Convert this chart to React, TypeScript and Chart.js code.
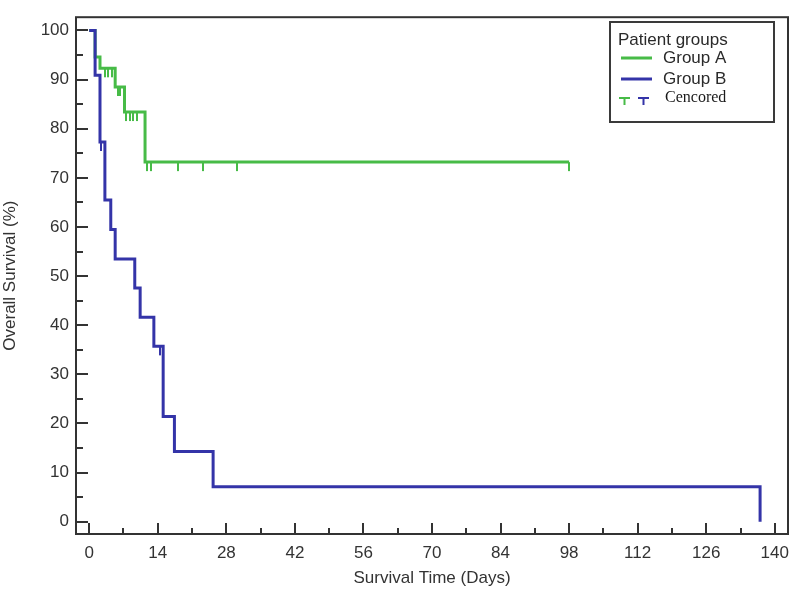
import React, { useEffect, useRef } from "react";
import { Chart, registerables } from "chart.js";

Chart.register(...registerables);

// Kaplan–Meier step data (time in days, survival in %)
const groupATimes = [0, 1.2, 2.2, 5.3, 7.2, 11.4, 98];
const groupAValues = [100, 94.6, 92.3, 88.5, 83.4, 73.2, 73.2];
const groupBTimes = [0, 1.2, 2.2, 3.2, 4.4, 5.3, 9.3, 10.4, 13.2, 15.1, 17.4, 25.3, 137];
const groupBValues = [100, 90.9, 77.3, 65.5, 59.5, 53.5, 47.6, 41.6, 35.7, 21.4, 14.3, 7.1, 0];

// censored observations (time in days)
const groupACensorTimes = [3.2, 3.9, 4.6, 5.8, 6.3, 7.6, 8.3, 9.0, 9.7, 11.8, 12.6, 18.2, 23.3, 30.2, 98];
const groupBCensorTimes = [2.5, 14.4];

// axis ticks
const xTicks = [0, 14, 28, 42, 56, 70, 84, 98, 112, 126, 140];
const xMinorTicks = [7, 21, 35, 49, 63, 77, 91, 105, 119, 133];
const yTicks = [0, 10, 20, 30, 40, 50, 60, 70, 80, 90, 100];
const yMinorTicks = [5, 15, 25, 35, 45, 55, 65, 75, 85, 95];

const legendTitle = "Patient groups";
const legendLabels = ["Group A", "Group B"];
const censorLabel = "Cencored";

const GREEN = "#47bb47";
const BLUE = "#3434a8";
const INK = "#333333";
const SANS = "'Liberation Sans', Arial, sans-serif";

function survivalAt(times: number[], values: number[], t: number): number {
  let v = values[0];
  for (let i = 0; i < times.length; i++) {
    if (times[i] <= t) v = values[i];
  }
  return v;
}

function censorMark(color: string): HTMLCanvasElement {
  const c = document.createElement("canvas");
  c.width = 2;
  c.height = 20;
  const ctx = c.getContext("2d")!;
  ctx.fillStyle = color;
  ctx.fillRect(0, 10, 2, 9);
  return c;
}

const framePlugin = {
  id: "framePlugin",
  afterDraw(chart: any) {
    const { ctx, chartArea, scales } = chart;
    const { left, right, top, bottom } = chartArea;
    ctx.save();
    ctx.strokeStyle = INK;
    ctx.lineWidth = 2;
    ctx.strokeRect(left, top, right - left, bottom - top);
    ctx.beginPath();
    xTicks.forEach((v) => {
      const px = Math.round(scales.x.getPixelForValue(v));
      ctx.moveTo(px, bottom);
      ctx.lineTo(px, bottom - 11);
    });
    xMinorTicks.forEach((v) => {
      const px = Math.round(scales.x.getPixelForValue(v));
      ctx.moveTo(px, bottom);
      ctx.lineTo(px, bottom - 6);
    });
    yTicks.forEach((v) => {
      const py = Math.round(scales.y.getPixelForValue(v));
      ctx.moveTo(left, py);
      ctx.lineTo(left + 12, py);
    });
    yMinorTicks.forEach((v) => {
      const py = Math.round(scales.y.getPixelForValue(v));
      ctx.moveTo(left, py);
      ctx.lineTo(left + 7, py);
    });
    ctx.stroke();

    // legend box
    const lx = 610, ly = 22, lw = 164, lh = 100;
    ctx.lineWidth = 2;
    ctx.strokeStyle = "#3a3a3a";
    ctx.strokeRect(lx, ly, lw, lh);
    ctx.fillStyle = "#2a2a2a";
    ctx.textBaseline = "middle";
    ctx.textAlign = "left";
    ctx.font = "17px " + SANS;
    ctx.fillText(legendTitle, 618, 40);
    const colors = [GREEN, BLUE];
    const rows = [58, 79];
    legendLabels.forEach((lab, i) => {
      ctx.strokeStyle = colors[i];
      ctx.lineWidth = 3;
      ctx.beginPath();
      ctx.moveTo(621, rows[i]);
      ctx.lineTo(652, rows[i]);
      ctx.stroke();
      ctx.fillStyle = "#2a2a2a";
      ctx.fillText(lab, 663, rows[i]);
    });
    // censor symbols
    const ts = [[619, 630], [638, 649]];
    ts.forEach((t, i) => {
      ctx.strokeStyle = colors[i];
      ctx.lineWidth = 2;
      ctx.beginPath();
      ctx.moveTo(t[0], 98);
      ctx.lineTo(t[1], 98);
      ctx.moveTo((t[0] + t[1]) / 2, 98);
      ctx.lineTo((t[0] + t[1]) / 2, 105);
      ctx.stroke();
    });
    ctx.fillStyle = "#1a1a1a";
    ctx.font = "16px 'Liberation Serif', 'Times New Roman', serif";
    ctx.fillText(censorLabel, 665, 98);
    ctx.restore();
  },
};

export default function App() {
  const ref = useRef<HTMLCanvasElement | null>(null);
  useEffect(() => {
    if (!ref.current) return;
    const toPts = (ts: number[], vs: number[]) => ts.map((t, i) => ({ x: t, y: vs[i] }));
    const chart = new Chart(ref.current, {
      type: "line",
      data: {
        datasets: [
          {
            label: legendLabels[1],
            data: toPts(groupBTimes, groupBValues),
            borderColor: BLUE,
            borderWidth: 3,
            stepped: "before",
            pointRadius: 0,
            fill: false,
            order: 1,
          },
          {
            label: legendLabels[0],
            data: toPts(groupATimes, groupAValues),
            borderColor: GREEN,
            borderWidth: 3,
            stepped: "before",
            pointRadius: 0,
            fill: false,
            order: 2,
          },
          {
            type: "scatter",
            label: "censor B",
            data: groupBCensorTimes.map((t) => ({ x: t, y: survivalAt(groupBTimes, groupBValues, t) })),
            pointStyle: censorMark(BLUE),
            pointRadius: 5,
            showLine: false,
            order: 0,
          },
          {
            type: "scatter",
            label: "censor A",
            data: groupACensorTimes.map((t) => ({ x: t, y: survivalAt(groupATimes, groupAValues, t) })),
            pointStyle: censorMark(GREEN),
            pointRadius: 5,
            showLine: false,
            order: 3,
          },
        ] as any,
      },
      options: {
        animation: false,
        responsive: false,
        devicePixelRatio: 1,
        layout: { padding: { left: 0, top: 10, right: 12, bottom: 0 } },
        plugins: { legend: { display: false }, tooltip: { enabled: false } },
        scales: {
          x: {
            type: "linear",
            min: -2.7,
            max: 142.7,
            grid: { display: false, drawTicks: false },
            border: { display: false },
            afterBuildTicks: (s: any) => {
              s.ticks = xTicks.map((v) => ({ value: v }));
            },
            afterFit: (s: any) => {
              s.height = 61;
            },
            ticks: {
              padding: 9,
              color: INK,
              maxRotation: 0,
              autoSkip: false,
              font: { family: SANS, size: 17 },
            },
            title: {
              display: true,
              text: "Survival Time (Days)",
              color: INK,
              padding: { top: 0, bottom: 6 },
              font: { family: SANS, size: 17 },
            },
          },
          y: {
            type: "linear",
            min: -2.5,
            max: 102.7,
            grid: { display: false, drawTicks: false },
            border: { display: false },
            afterBuildTicks: (s: any) => {
              s.ticks = yTicks.map((v) => ({ value: v }));
            },
            afterFit: (s: any) => {
              s.width = 76;
            },
            ticks: {
              padding: 7,
              color: INK,
              autoSkip: false,
              font: { family: SANS, size: 17 },
            },
            title: {
              display: true,
              text: "Overall Survival (%)",
              color: INK,
              padding: { top: 0, bottom: 0 },
              font: { family: SANS, size: 17 },
            },
          },
        },
      } as any,
      plugins: [framePlugin],
    });
    return () => chart.destroy();
  }, []);
  return (
    <div style={{ position: "absolute", left: 0, top: 0, width: 800, height: 595, background: "#fff" }}>
      <canvas ref={ref} width={800} height={595} style={{ display: "block", width: 800, height: 595 }} />
    </div>
  );
}
